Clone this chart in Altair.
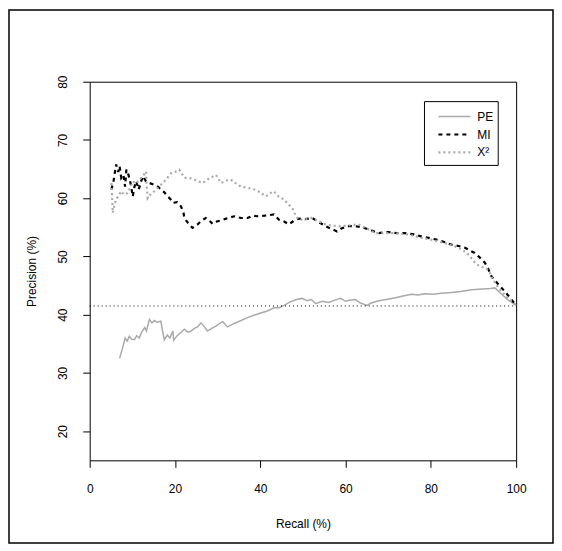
import altair as alt
import pandas as pd

# ---------------- data ----------------
pe_recall = [7.0, 7.6, 8.3, 8.8, 9.3, 9.8, 10.5, 11.0, 11.6, 12.2, 12.9, 13.3, 14.0, 14.6, 15.2, 15.8,
             16.7, 17.0, 17.5, 18.2, 18.8, 19.5, 19.7, 20.5, 21.3, 22.2, 23.0, 23.8, 24.6, 25.3, 26.1,
             26.8, 27.6, 28.5, 29.5, 30.5, 31.2, 32.3, 33.9, 35.5, 37.0, 38.5, 40.1, 41.5, 43.2, 44.4,
             45.6, 47.0, 48.5, 49.8, 51.0, 52.0, 53.0, 54.5, 56.0, 57.5, 58.8, 60.0, 61.0, 62.3, 63.5,
             65.0, 66.0, 67.8, 69.5, 71.7, 73.5, 75.5, 77.0, 78.6, 80.5, 82.5, 84.9, 87.0, 89.6, 92.0,
             94.0, 95.0, 96.5, 98.0, 100.0]
pe_precision = [32.5, 34.0, 36.0, 35.5, 36.3, 35.8, 35.7, 36.4, 36.0, 37.0, 37.8, 37.2, 39.2, 38.6, 39.0, 38.7,
                38.9, 37.5, 35.7, 36.5, 36.0, 37.2, 35.6, 36.4, 36.9, 37.5, 37.0, 37.2, 37.7, 37.9, 38.6,
                38.0, 37.2, 37.6, 38.0, 38.5, 38.8, 37.9, 38.5, 39.0, 39.5, 39.9, 40.3, 40.6, 41.2, 41.2,
                41.6, 42.2, 42.6, 42.8, 42.4, 42.6, 41.9, 42.3, 42.1, 42.5, 42.8, 42.3, 42.5, 42.6, 42.0,
                41.6, 42.0, 42.4, 42.6, 42.9, 43.2, 43.5, 43.4, 43.6, 43.5, 43.7, 43.8, 44.0, 44.3, 44.4,
                44.5, 44.6, 43.6, 42.6, 41.6]

mi_recall = [5.1, 5.6, 6.2, 6.7, 7.0, 7.4, 7.9, 8.3, 8.6, 9.1, 9.6, 10.1, 10.5, 10.9, 11.5, 12.0, 12.5,
             13.2, 14.0, 15.2, 16.0, 16.7, 17.5, 18.3, 19.0, 19.5, 20.5, 21.4, 22.0, 22.2, 23.0, 24.1,
             25.3, 26.0, 27.2, 28.0, 28.8, 29.8, 30.8, 32.0, 33.9, 35.5, 37.0, 38.2, 39.3, 41.0, 43.2,
             44.4, 45.6, 46.7, 48.0, 49.0, 50.5, 52.2, 53.5, 55.3, 56.5, 58.0, 59.0, 60.5, 62.3, 64.0,
             66.0, 67.8, 70.0, 72.0, 74.0, 76.0, 77.9, 80.0, 81.8, 83.5, 84.9, 86.5, 88.0, 89.2, 90.3,
             91.5, 92.7, 93.5, 94.2, 95.5, 96.6, 97.8, 98.9, 100.0]
mi_precision = [61.5, 63.0, 65.8, 64.5, 65.5, 63.5, 64.0, 62.0, 64.9, 64.0, 62.5, 60.3, 62.0, 62.9, 61.5, 62.8, 63.8,
                62.9, 62.6, 62.3, 62.0, 61.5, 61.0, 60.3, 59.8, 59.2, 59.3, 58.6, 57.5, 56.6, 55.8, 54.9,
                55.5, 56.0, 56.6, 56.2, 55.6, 56.0, 56.2, 56.5, 56.9, 56.6, 56.6, 57.0, 56.9, 57.0, 57.2,
                56.3, 56.0, 55.5, 56.2, 56.5, 56.4, 56.6, 56.0, 55.2, 54.8, 54.3, 54.8, 55.2, 55.2, 55.0,
                54.5, 54.0, 54.2, 54.0, 54.0, 53.8, 53.4, 53.1, 52.8, 52.4, 52.0, 51.8, 51.5, 51.0, 50.6,
                49.8, 48.9, 47.8, 46.6, 45.5, 44.6, 43.6, 42.6, 41.6]

x2_recall = [5.1, 5.3, 5.4, 5.8, 6.2, 6.8, 7.4, 8.0, 8.9, 9.5, 10.1, 10.9, 11.7, 12.5, 13.2, 13.4, 13.6,
             14.4, 15.2, 16.0, 16.7, 17.9, 19.1, 20.0, 21.0, 21.6, 22.2, 23.3, 24.5, 25.5, 26.5, 28.0,
             29.6, 30.2, 30.8, 32.0, 33.1, 34.2, 35.4, 37.0, 38.6, 40.0, 41.3, 42.2, 43.2, 44.4, 45.6,
             46.5, 47.5, 48.3, 49.0, 50.5, 52.0, 53.5, 55.3, 56.8, 58.4, 60.5, 63.0, 65.0, 67.0, 69.5,
             71.7, 74.5, 77.9, 80.5, 83.3, 85.5, 87.2, 88.3, 89.2, 90.0, 90.8, 92.0, 93.5, 94.6, 95.5,
             96.2, 97.5, 98.9, 100.0]
x2_precision = [62.6, 59.5, 57.5, 58.8, 59.8, 60.5, 61.2, 60.6, 60.9, 61.8, 62.9, 62.5, 63.2, 63.8, 64.6, 62.0, 60.0,
                60.8, 61.2, 61.8, 62.3, 63.2, 64.3, 64.5, 64.9, 64.2, 63.5, 63.5, 63.2, 62.9, 62.6, 63.4,
                64.0, 63.3, 62.6, 63.0, 63.2, 62.6, 62.0, 61.8, 61.5, 61.0, 60.3, 60.8, 61.2, 60.2, 59.8,
                59.0, 58.3, 57.0, 56.3, 56.4, 56.6, 56.1, 55.5, 55.3, 55.2, 55.3, 55.5, 54.8, 54.0, 54.0,
                54.0, 53.8, 53.2, 52.8, 52.3, 51.8, 51.2, 50.7, 50.0, 49.2, 48.6, 48.2, 47.7, 46.0, 45.0,
                44.3, 43.3, 42.3, 41.6]

baseline_precision = 41.5
x_ticks = [0, 20, 40, 60, 80, 100]
y_ticks = [20, 30, 40, 50, 60, 70, 80]
legend_labels = ["PE", "MI", "X²"]

GRAY = "#a9a9a9"
FONT = "Liberation Sans"


def series_df(r, p):
    return pd.DataFrame({"recall": r, "precision": p, "idx": list(range(len(r)))})


x_scale = alt.Scale(domain=[0, 100], nice=False, zero=False)
y_scale = alt.Scale(domain=[15, 80], nice=False, zero=False)

x_enc = alt.X("recall:Q", scale=x_scale,
              axis=alt.Axis(values=x_ticks, title="Recall (%)", grid=False, domain=False,
                            tickSize=7, tickColor="black", tickWidth=1,
                            labelFont=FONT, labelFontSize=12, labelColor="black",
                            titleFont=FONT, titleFontSize=12, titleFontWeight="normal", titleColor="black",
                            labelPadding=16, titlePadding=24, labelFlush=False))
y_enc = alt.Y("precision:Q", scale=y_scale,
              axis=alt.Axis(values=y_ticks, title="Precision (%)", grid=False, domain=False,
                            tickSize=7, tickColor="black", tickWidth=1,
                            labelFont=FONT, labelFontSize=12, labelColor="black",
                            titleFont=FONT, titleFontSize=12, titleFontWeight="normal", titleColor="black",
                            labelAngle=270, labelAlign="center", labelBaseline="bottom",
                            labelPadding=13, titlePadding=18, labelFlush=False))

pe = alt.Chart(series_df(pe_recall, pe_precision)).mark_line(
    color=GRAY, strokeWidth=1.5).encode(x=x_enc, y=y_enc, order="idx:Q")

mi = alt.Chart(series_df(mi_recall, mi_precision)).mark_line(
    color="black", strokeWidth=2.2, strokeDash=[4, 4]).encode(
    x=alt.X("recall:Q", scale=x_scale), y=alt.Y("precision:Q", scale=y_scale), order="idx:Q")

x2 = alt.Chart(series_df(x2_recall, x2_precision)).mark_line(
    color=GRAY, strokeWidth=2.2, strokeDash=[2, 3]).encode(
    x=alt.X("recall:Q", scale=x_scale), y=alt.Y("precision:Q", scale=y_scale), order="idx:Q")

base_df = pd.DataFrame({"x0": [0], "x1": [100], "y": [baseline_precision]})
base_rule = alt.Chart(base_df).mark_rule(color="black", strokeWidth=1, strokeDash=[1, 3]).encode(
    x=alt.X("x0:Q", scale=x_scale), x2="x1:Q", y=alt.Y("y:Q", scale=y_scale))

one = pd.DataFrame({"a": [0]})

# legend (drawn by hand, R style)
leg_box = alt.Chart(one).mark_rect(fill="white", stroke="black", strokeWidth=1).encode(
    x=alt.value(336), x2=alt.value(410), y=alt.value(20), y2=alt.value(84))
leg_styles = [(GRAY, 1.5, [1, 0]), ("black", 2.2, [4, 4]), (GRAY, 2.2, [2, 3])]
leg_layers = [leg_box]
for i, (lab, (col, w, dash)) in enumerate(zip(legend_labels, leg_styles)):
    yy = 35 + 18 * i
    leg_layers.append(alt.Chart(one).mark_rule(color=col, strokeWidth=w, strokeDash=dash).encode(
        x=alt.value(350), x2=alt.value(382), y=alt.value(yy)))
    leg_layers.append(alt.Chart(one).mark_text(align="left", baseline="middle", font=FONT,
                                                fontSize=12, color="black").encode(
        x=alt.value(389), y=alt.value(yy), text=alt.value(lab)))

frame = alt.Chart(one).mark_rect(fillOpacity=0, stroke="black", strokeWidth=1.5, clip=False).encode(
    x=alt.value(-81), x2=alt.value(465), y=alt.value(-72), y2=alt.value(463))

chart = alt.layer(pe, mi, x2, base_rule, *leg_layers, frame).properties(
    width=428, height=380,
    background="white",
    autosize=alt.AutoSizeParams(type="none"),
    padding={"left": 82, "top": 73, "right": 38, "bottom": 84},
).configure_view(stroke="black", strokeWidth=1)

chart.save("out.html", embed_options={"renderer": "svg", "actions": False})
